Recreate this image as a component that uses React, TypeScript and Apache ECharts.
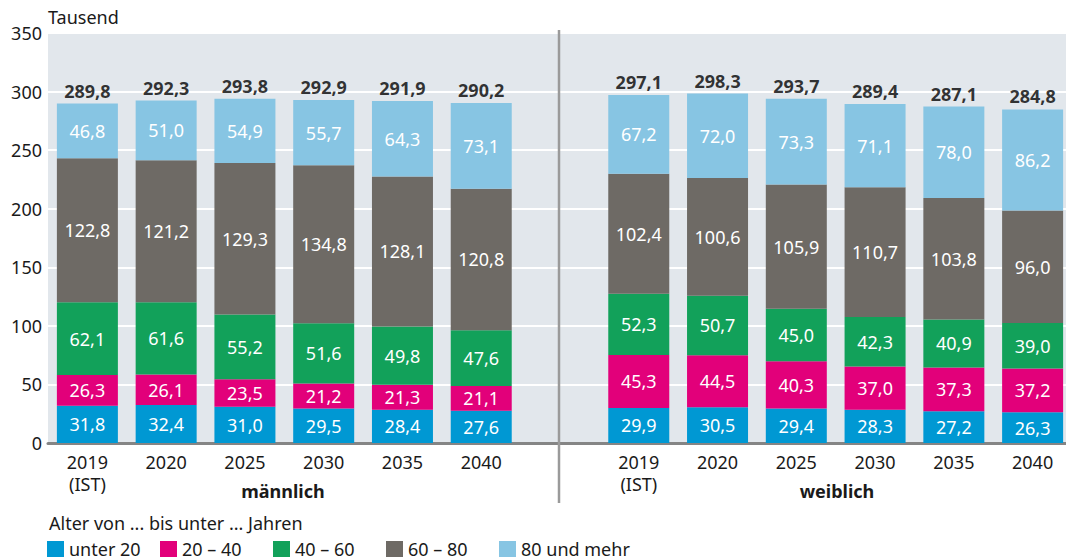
import React, { useEffect, useRef } from "react";
import * as echarts from "echarts";

const categories = [
  "2019\n(IST)", "2020", "2025", "2030", "2035", "2040",
  "",
  "2019\n(IST)", "2020", "2025", "2030", "2035", "2040",
];
const seriesNames = ["unter 20", "20 – 40", "40 – 60", "60 – 80", "80 und mehr"];
const colors = ["#0098D3", "#E2007A", "#12A15A", "#6E6A65", "#87C5E3"];

// männlich values, gap, weiblich values
const unter20 = [31.8, 32.4, 31.0, 29.5, 28.4, 27.6, "-", 29.9, 30.5, 29.4, 28.3, 27.2, 26.3];
const von20bis40 = [26.3, 26.1, 23.5, 21.2, 21.3, 21.1, "-", 45.3, 44.5, 40.3, 37.0, 37.3, 37.2];
const von40bis60 = [62.1, 61.6, 55.2, 51.6, 49.8, 47.6, "-", 52.3, 50.7, 45.0, 42.3, 40.9, 39.0];
const von60bis80 = [122.8, 121.2, 129.3, 134.8, 128.1, 120.8, "-", 102.4, 100.6, 105.9, 110.7, 103.8, 96.0];
const ab80 = [46.8, 51.0, 54.9, 55.7, 64.3, 73.1, "-", 67.2, 72.0, 73.3, 71.1, 78.0, 86.2];
const totals = [289.8, 292.3, 293.8, 292.9, 291.9, 290.2, "-", 297.1, 298.3, 293.7, 289.4, 287.1, 284.8];

const FONT = "'Noto Sans', 'Open Sans', sans-serif";
const fmt = (v: number) => v.toFixed(1).replace(".", ",");

export default function App() {
  const ref = useRef<HTMLDivElement>(null);
  useEffect(() => {
    document.body.style.margin = "0";
    if (!ref.current) return;
    const chart = echarts.init(ref.current, null, { renderer: "svg" });
    const values = [unter20, von20bis40, von40bis60, von60bis80, ab80];
    const barSeries = values.map((d, i) => ({
      name: seriesNames[i],
      type: "bar",
      stack: "total",
      data: d,
      barWidth: 61,
      itemStyle: { color: colors[i] },
      label: {
        show: true,
        position: "inside",
        color: "#ffffff",
        fontSize: 18,
        fontFamily: FONT,
        formatter: (p: any) => fmt(p.value),
      },
    }));
    const legends = seriesNames.map((n, i) => ({
      data: [n],
      left: 47 + 113 * i,
      top: 540,
      padding: 0,
      itemWidth: 17,
      itemHeight: 16,
      icon: "rect",
      selectedMode: false,
      textStyle: { fontSize: 18, color: "#1a1a1a", fontFamily: FONT, padding: [0, 0, 0, 0] },
    }));
    chart.setOption({
      animation: false,
      textStyle: { fontFamily: FONT },
      title: [
        { text: "Tausend", left: 48, top: 8, padding: 0, textStyle: { fontSize: 18, fontWeight: "normal", color: "#1a1a1a", fontFamily: FONT } },
        { text: "Alter von ... bis unter ... Jahren", left: 49, top: 514, padding: 0, textStyle: { fontSize: 18, fontWeight: "normal", color: "#1a1a1a", fontFamily: FONT } },
      ],
      legend: legends,
      grid: {
        left: 48,
        right: 0,
        top: 33,
        bottom: 117,
        show: true,
        backgroundColor: "#E2E7EC",
        borderWidth: 0,
      },
      xAxis: {
        type: "category",
        data: categories,
        axisLine: { show: true, lineStyle: { color: "#858585", width: 3 } },
        axisTick: { show: false },
        axisLabel: { fontSize: 18, color: "#1a1a1a", lineHeight: 22, margin: 8, fontFamily: FONT, interval: 0 },
      },
      yAxis: {
        type: "value",
        min: 0,
        max: 350,
        interval: 50,
        axisLine: { show: false },
        axisTick: { show: false },
        axisLabel: { fontSize: 18, color: "#1a1a1a", margin: 6, fontFamily: FONT },
        splitLine: { lineStyle: { color: "#ffffff", width: 2 } },
      },
      series: [
        ...barSeries,
        {
          name: "Insgesamt",
          type: "scatter",
          data: totals,
          symbolSize: 0.01,
          itemStyle: { color: "transparent" },
          label: {
            show: true,
            position: "top",
            distance: 4,
            color: "#000000",
            fontSize: 18,
            fontWeight: "bold",
            fontFamily: FONT,
            formatter: (p: any) => fmt(p.value),
          },
          z: 5,
        },
      ],
      graphic: [
        { type: "line", shape: { x1: 559, y1: 30, x2: 559, y2: 503 }, style: { stroke: "#9a9a9a", lineWidth: 2.5 }, z: 10 },
        { type: "text", x: 283, y: 491, style: { text: "männlich", fontSize: 18, fontWeight: "bold", fill: "#1a1a1a", fontFamily: FONT, textAlign: "center", textVerticalAlign: "middle" } },
        { type: "text", x: 837, y: 491, style: { text: "weiblich", fontSize: 18, fontWeight: "bold", fill: "#1a1a1a", fontFamily: FONT, textAlign: "center", textVerticalAlign: "middle" } },
      ],
    });
    return () => chart.dispose();
  }, []);
  return (
    <div style={{ width: 1066, height: 560, overflow: "hidden", position: "relative" }}>
      <div ref={ref} style={{ width: 1072, height: 560 }} />
    </div>
  );
}
